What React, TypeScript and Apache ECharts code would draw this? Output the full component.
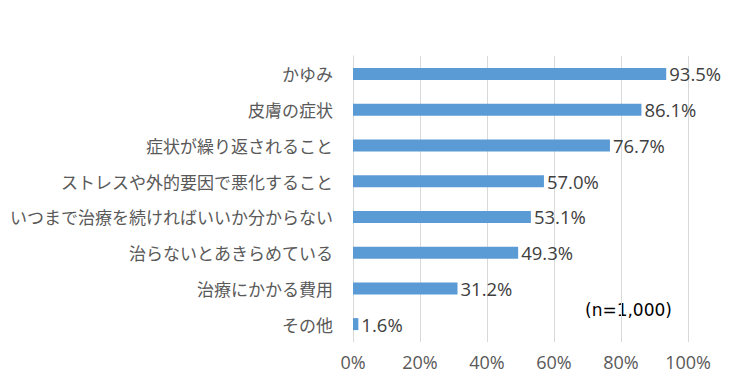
import React, { useEffect, useRef } from "react";
import * as echarts from "echarts";

const categories = [
  "かゆみ",
  "皮膚の症状",
  "症状が繰り返されること",
  "ストレスや外的要因で悪化すること",
  "いつまで治療を続ければいいか分からない",
  "治らないとあきらめている",
  "治療にかかる費用",
  "その他",
];
const values = [93.5, 86.1, 76.7, 57.0, 53.1, 49.3, 31.2, 1.6];
const noteText = "(n=1,000)";

const FONT = "'Noto Sans CJK JP', 'Noto Sans', sans-serif";
const NUM_FONT = "'Open Sans', 'Noto Sans CJK JP', sans-serif";
const NOTE_FONT = "'DejaVu Sans', 'Noto Sans CJK JP', sans-serif";

export default function App() {
  const ref = useRef<HTMLDivElement>(null);
  useEffect(() => {
    if (!ref.current) return;
    const chart = echarts.init(ref.current, null, { renderer: "svg" });
    chart.setOption({
      animation: false,
      textStyle: { fontFamily: FONT },
      grid: { left: 353, top: 56, width: 335, height: 286, containLabel: false },
      xAxis: {
        type: "value",
        min: 0,
        max: 100,
        interval: 20,
        axisLine: { show: false },
        axisTick: { show: false },
        splitLine: { show: true, lineStyle: { color: "#D9D9D9", width: 1 } },
        axisLabel: {
          formatter: "{value}%",
          color: "#595959",
          fontSize: 18,
          fontFamily: NUM_FONT,
          margin: 11,
        },
      },
      yAxis: {
        type: "category",
        data: categories,
        inverse: true,
        axisLine: { show: true, lineStyle: { color: "#D9D9D9" } },
        axisTick: { show: false },
        axisLabel: {
          color: "#595959",
          fontSize: 17,
          fontFamily: FONT,
          margin: 20,
        },
      },
      series: [
        {
          type: "bar",
          data: values,
          barWidth: 12,
          itemStyle: { color: "#5B9BD5" },
          label: {
            show: true,
            position: "right",
            distance: 3,
            formatter: (p: any) => p.value.toFixed(1) + "%",
            color: "#404040",
            fontSize: 18.5,
            fontFamily: NUM_FONT,
          },
        },
      ],
      graphic: [
        {
          type: "text",
          left: 585,
          top: 301,
          style: { text: noteText, fill: "#000000", fontSize: 17, fontFamily: NOTE_FONT },
        },
      ],
    });
    return () => chart.dispose();
  }, []);
  return <div ref={ref} style={{ width: 730, height: 388, position: "absolute", left: 0, top: 0 }} />;
}
